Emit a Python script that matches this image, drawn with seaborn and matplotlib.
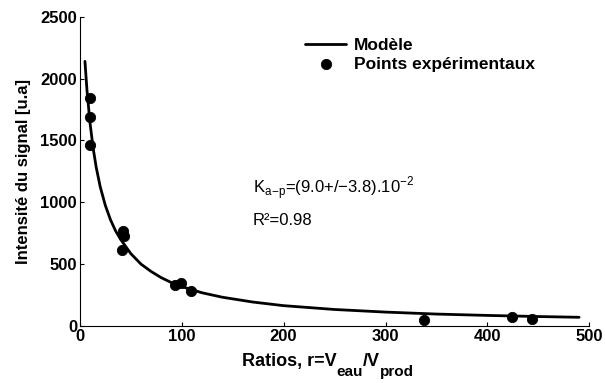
"""
Intensité du signal vs ratio eau/produit, avec le modèle ajusté.
"""
import matplotlib
matplotlib.use("Agg")
import matplotlib.pyplot as plt
import seaborn as sns

# points expérimentaux
ratio_exp = [10, 10, 10, 42, 43, 41, 93, 99, 109, 338, 424, 444]
signal_exp = [1840, 1690, 1460, 770, 730, 615, 335, 345, 280, 45, 75, 60]

# courbe du modèle
ratio_model = [5, 7, 10, 13, 16, 20, 25, 30, 35, 40, 50, 60, 70, 80, 90,
               100, 120, 140, 170, 200, 250, 300, 350, 400, 450, 490]
signal_model = [2140, 1905, 1640, 1440, 1285, 1125, 975, 860, 770, 700, 585,
                500, 440, 390, 350, 318, 268, 232, 193, 164, 133, 112, 96,
                85, 76, 70]

x_ticks = [0, 100, 200, 300, 400, 500]
y_ticks = [0, 500, 1000, 1500, 2000, 2500]

sns.set_style("ticks", {"xtick.direction": "in", "ytick.direction": "in"})
plt.rcParams["font.family"] = ["Liberation Sans", "DejaVu Sans"]
plt.rcParams["mathtext.fontset"] = "custom"
plt.rcParams["mathtext.rm"] = "Liberation Sans"
plt.rcParams["mathtext.bf"] = "Liberation Sans:bold"
for key in ["text.color", "axes.labelcolor", "xtick.color", "ytick.color",
            "axes.edgecolor"]:
    plt.rcParams[key] = "black"

fig = plt.figure(figsize=(6.05, 3.83), dpi=100)
ax = fig.add_axes([0.132, 0.149, 0.842, 0.807])

sns.lineplot(x=ratio_model, y=signal_model, color="black", linewidth=2.0,
             ax=ax, label="Modèle", sort=False)
sns.scatterplot(x=ratio_exp, y=signal_exp, color="black", s=55,
                edgecolor="black", ax=ax, label="Points expérimentaux")

ax.set_xlim(0, 500)
ax.set_ylim(0, 2500)
ax.set_xticks(x_ticks)
ax.set_yticks(y_ticks)
ax.tick_params(labelsize=12, length=3, width=0.8, pad=2)
for lbl in ax.get_xticklabels() + ax.get_yticklabels():
    lbl.set_fontweight("bold")
sns.despine(ax=ax)

# x label en morceaux pour avoir des indices plus grands
ax.set_xlabel("")
bold = {"fontweight": "bold", "va": "bottom"}
t = fig.text(0.40, 0.033, "Ratios, r=V", fontsize=13, **bold)
pieces = [("eau", 11, -6), ("/V", 13, 6), ("prod", 11, -6)]
for txt, size, dy in pieces:
    t = ax.annotate(txt, xy=(1, 0), xycoords=t, xytext=(0, dy),
                    textcoords="offset points", fontsize=size, **bold)

ax.set_ylabel("Intensité du signal [u.a]", fontsize=12, fontweight="bold",
              labelpad=7)

ax.legend(loc="upper left", bbox_to_anchor=(0.428, 0.955), frameon=False,
          prop={"weight": "bold", "size": 12.5}, handlelength=2.4,
          labelspacing=0.22, handletextpad=0.45, borderaxespad=0)

ax.text(170, 1076,
        r"K$_{\mathregular{a\!-\!p}}$=(9.0+/−3.8).10$^{\mathregular{-2}}$",
        fontsize=12, va="baseline")
ax.text(170, 817, "R²=0.98", fontsize=12, va="baseline")

fig.savefig("out.png", dpi=100)
